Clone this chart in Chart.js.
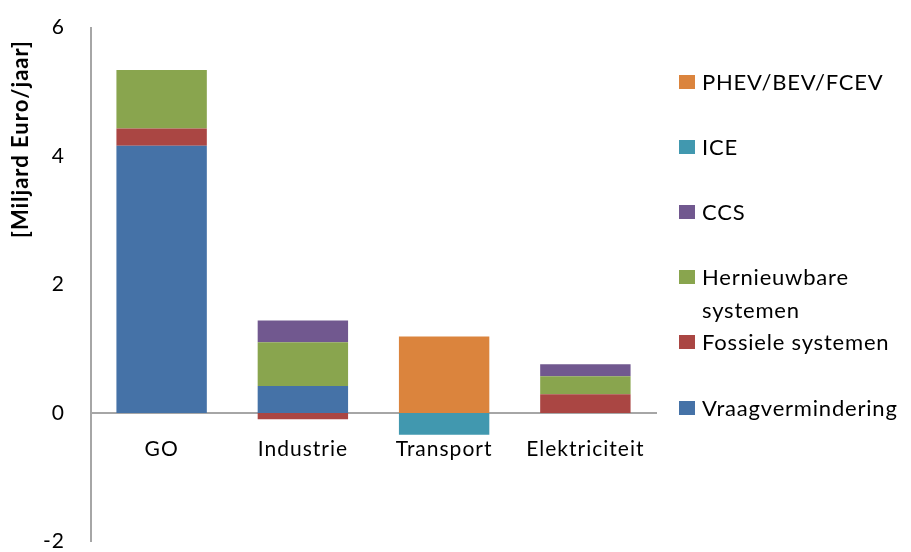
<!DOCTYPE html>
<html>
<head>
<meta charset="utf-8">
<script src="https://cdn.jsdelivr.net/npm/chart.js@4.4.0/dist/chart.umd.min.js"></script>
<style>
  html, body { margin: 0; padding: 0; background: #fff; }
  #wrap { position: relative; width: 911px; height: 552px; overflow: hidden; font-family: Lato, sans-serif; }
  #chart { position: absolute; left: 0; top: -11px; }
  #legend { position: absolute; left: 679px; top: 0; width: 232px; }
  .item { position: absolute; left: 0; display: flex; align-items: flex-start; }
  .sw { width: 16px; height: 14px; margin-top: 10px; flex: none; }
  .lbl { margin-left: 7px; width: 205px; font-size: 22px; line-height: 33px; letter-spacing: 0.8px; color: #000; }
</style>
</head>
<body>
<div id="wrap">
  <canvas id="chart" width="911" height="591"></canvas>
  <div id="legend"></div>
</div>
<script>
// ---- Data ----
var categories = ['GO', 'Industrie', 'Transport', 'Elektriciteit'];
var seriesNames = ['Vraagvermindering', 'Fossiele systemen', 'Hernieuwbare systemen', 'CCS', 'ICE', 'PHEV/BEV/FCEV'];
var vraagvermindering = [4.16, 0.42, 0, 0];
var fossiele = [0.27, -0.10, 0, 0.29];
var hernieuwbare = [0.91, 0.68, 0, 0.28];
var ccs = [0, 0.34, 0, 0.19];
var ice = [0, 0, -0.34, 0];
var phev = [0, 0, 1.19, 0];
var yTicks = [-2, 0, 2, 4, 6];

var COLORS = ['#4572A7', '#AA4643', '#89A54E', '#71588F', '#4198AF', '#DB843D'];
var seriesValues = [vraagvermindering, fossiele, hernieuwbare, ccs, ice, phev];

var datasets = seriesNames.map(function (name, i) {
  return {
    label: name,
    data: seriesValues[i],
    backgroundColor: COLORS[i],
    borderWidth: 0,
    barPercentage: 0.64,
    categoryPercentage: 1.0
  };
});

// ---- Letter spacing for canvas text (Excel-like look) ----
var spacingPlugin = {
  id: 'spacing',
  beforeDraw: function (chart) { chart.ctx.letterSpacing = '1px'; }
};

// ---- Y title drawn near top of the axis ----
var yTitlePlugin = {
  id: 'yTitle',
  afterDraw: function (chart) {
    var ctx = chart.ctx;
    ctx.save();
    ctx.translate(21, 150);
    ctx.rotate(-Math.PI / 2);
    ctx.font = 'bold 22px Lato, sans-serif';
    ctx.letterSpacing = '1px';
    ctx.fillStyle = '#000';
    ctx.textAlign = 'center';
    ctx.textBaseline = 'middle';
    ctx.fillText('[Miljard Euro/jaar]', 0, 0);
    ctx.restore();
  }
};

Chart.defaults.font.family = 'Lato, sans-serif';
Chart.defaults.color = '#000';

new Chart(document.getElementById('chart').getContext('2d'), {
  type: 'bar',
  data: { labels: categories, datasets: datasets },
  options: {
    responsive: false,
    animation: false,
    layout: { padding: { left: 0, right: 255, top: 6, bottom: 0 } },
    plugins: {
      legend: { display: false },
      tooltip: { enabled: false }
    },
    scales: {
      x: {
        stacked: true,
        position: { y: 0 },
        grid: { display: false, drawTicks: false },
        border: { color: '#a6a6a6', width: 2 },
        ticks: { font: { size: 21 }, padding: 24, color: '#000' }
      },
      y: {
        stacked: true,
        min: yTicks[0],
        max: yTicks[yTicks.length - 1],
        afterBuildTicks: function (scale) {
          scale.ticks = yTicks.map(function (v) { return { value: v }; });
        },
        afterFit: function (scale) { scale.width = 91; },
        grid: { display: false, drawTicks: false },
        border: { color: '#a6a6a6', width: 2 },
        ticks: { font: { size: 21 }, padding: 26, color: '#000' }
      }
    }
  },
  plugins: [spacingPlugin, yTitlePlugin]
});

// ---- HTML legend (reverse order, top = last series) ----
var legend = document.getElementById('legend');
for (var k = seriesNames.length - 1, row = 0; k >= 0; k--, row++) {
  var item = document.createElement('div');
  item.className = 'item';
  item.style.top = (65 + row * 65.1) + 'px';
  var sw = document.createElement('div');
  sw.className = 'sw';
  sw.style.background = COLORS[k];
  var lbl = document.createElement('div');
  lbl.className = 'lbl';
  lbl.textContent = seriesNames[k];
  item.appendChild(sw);
  item.appendChild(lbl);
  legend.appendChild(item);
}
</script>
</body>
</html>
